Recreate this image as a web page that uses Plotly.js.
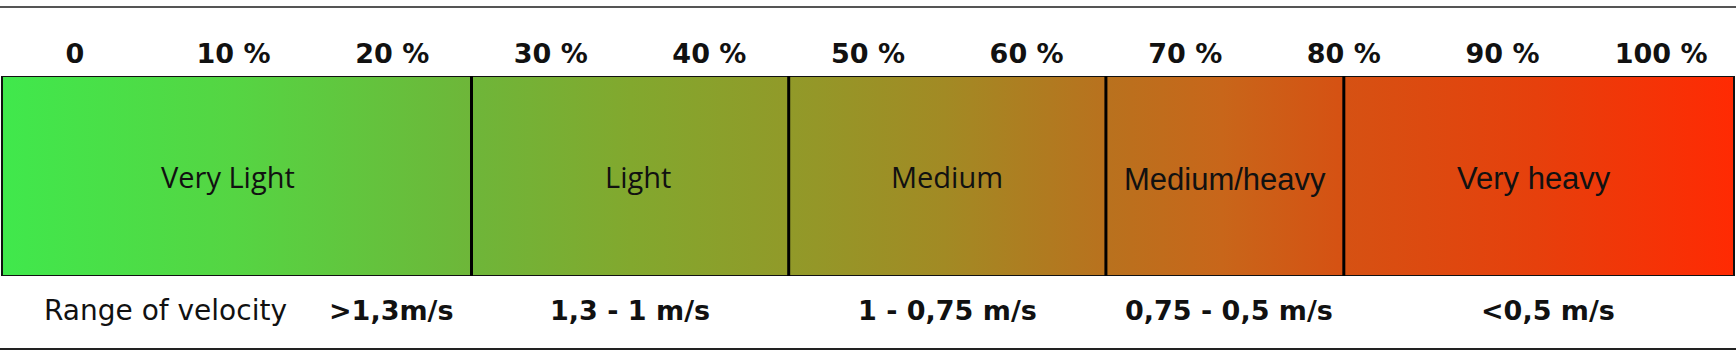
<!DOCTYPE html>
<html><head><meta charset="utf-8">
<script src="https://cdn.plot.ly/plotly-3.0.1.min.js"></script>
<style>html,body{margin:0;padding:0;background:#fff;overflow:hidden}#chart{width:1736px;height:363px}</style>
</head><body><div id="chart"></div>
<script>
// ---- data ----
const zoneNames = ["Very Light", "Light", "Medium", "Medium/heavy", "Very heavy"];
const zoneBounds = [-4.6, 25, 45, 65, 80, 104.6];
const velocityRanges = [">1,3m/s", "1,3 - 1 m/s", "1 - 0,75 m/s", "0,75 - 0,5 m/s", "<0,5 m/s"];
const tickValues = [0, 10, 20, 30, 40, 50, 60, 70, 80, 90, 100];
const tickLabels = ["0", "10 %", "20 %", "30 %", "40 %", "50 %", "60 %", "70 %", "80 %", "90 %", "100 %"];
const rowLabel = "Range of velocity";

// ---- style ----
const gradient = [
  [0.000, "#40e84c"], [0.134, "#55d543"], [0.271, "#6eb639"], [0.363, "#82a82e"],
  [0.453, "#919a29"], [0.544, "#a28a24"], [0.635, "#b8721e"], [0.704, "#c8661a"],
  [0.771, "#d55213"], [0.886, "#e6400c"], [1.000, "#ff2a03"]
];
const nameFonts = ["Open Sans", "Open Sans", "Open Sans", "Liberation Sans", "Liberation Sans"];
const nameSizes = [29, 29, 29, 31, 31];
const nameShift = [-9, 8, 0, 0, -5];
const nameYShift = [3, 3, 3, 0, 1];
const first = zoneBounds[0], last = zoneBounds[zoneBounds.length - 1];
const pxPer = (last - first) / 1732;
const xRange = [first - 2 * pxPer, last + 2 * pxPer];
const mids = zoneNames.map((_, i) => (zoneBounds[i] + zoneBounds[i + 1]) / 2);

const barTrace = {
  type: "scatter", mode: "lines",
  x: [first, last, last, first, first], y: [0, 0, 1, 1, 0],
  fill: "toself",
  fillgradient: { type: "horizontal", colorscale: gradient },
  line: { color: "#111", width: 2 },
  hoverinfo: "skip", showlegend: false
};

const shapes = zoneBounds.slice(1, -1).map(b => ({
  type: "line", xref: "x", yref: "y", x0: b, x1: b, y0: -0.025, y1: 1,
  line: { color: "#000", width: 3 }
}));
shapes.push({ type: "line", xref: "paper", yref: "paper", x0: 0, x1: 1, y0: 0.9807, y1: 0.9807, line: { color: "#555", width: 2 } });
shapes.push({ type: "line", xref: "paper", yref: "paper", x0: 0, x1: 1, y0: 0.0386, y1: 0.0386, line: { color: "#222", width: 2 } });

const annotations = zoneNames.map((t, i) => ({
  x: mids[i], xref: "x", xanchor: "center", xshift: nameShift[i],
  y: 0.485, yref: "y", yanchor: "middle", yshift: nameYShift[i], text: t, showarrow: false,
  font: { family: nameFonts[i], size: nameSizes[i], color: "#111" }
}));

const bottomFont = { family: "DejaVu Sans", size: 27, color: "#111", weight: "bold" };
const velShift = [-15, 0, 0, 4, 9];
velocityRanges.forEach((t, i) => annotations.push(i === 0 ? {
  x: zoneBounds[1], xref: "x", xanchor: "right", xshift: velShift[i],
  y: 0.146, yref: "paper", yanchor: "middle", text: t, showarrow: false, font: bottomFont
} : {
  x: mids[i], xref: "x", xanchor: "center", xshift: velShift[i],
  y: 0.146, yref: "paper", yanchor: "middle", text: t, showarrow: false, font: bottomFont
}));
annotations.push({
  x: 0, xref: "paper", xanchor: "left", xshift: 42,
  y: 0.146, yref: "paper", yanchor: "middle", text: rowLabel, showarrow: false,
  font: { family: "DejaVu Sans", size: 28, color: "#111" }
});

const layout = {
  width: 1736, height: 363,
  margin: { l: 0, r: 0, t: 0, b: 0 },
  paper_bgcolor: "#fff", plot_bgcolor: "#fff",
  xaxis: {
    range: xRange, side: "top", tickvals: tickValues, ticktext: tickLabels,
    tickfont: { family: "DejaVu Sans", size: 27, color: "#111", weight: "bold" },
    ticklabelstandoff: 7,
    showgrid: false, zeroline: false, showline: false, ticks: "", fixedrange: true
  },
  yaxis: { domain: [0.2397, 0.7906], range: [0, 1], visible: false, fixedrange: true },
  shapes: shapes,
  annotations: annotations,
  showlegend: false
};

Plotly.newPlot("chart", [barTrace], layout, { staticPlot: true, displayModeBar: false });
</script>
</body></html>
